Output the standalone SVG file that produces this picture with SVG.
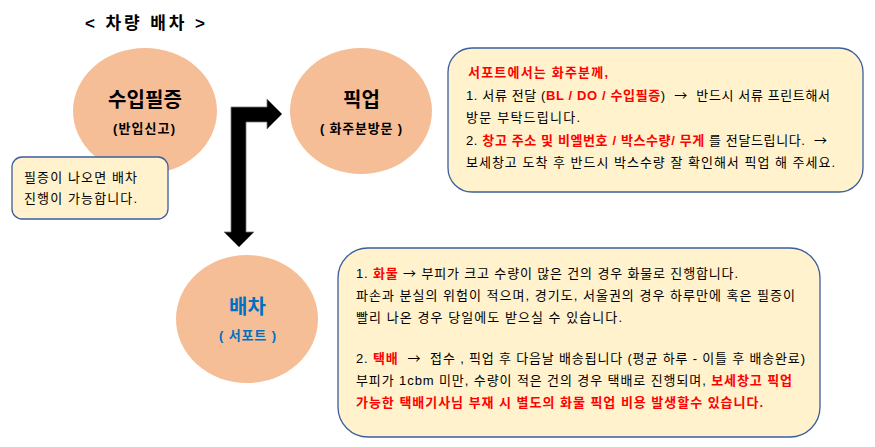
<svg xmlns="http://www.w3.org/2000/svg" width="875" height="447" viewBox="0 0 875 447">
<style>
text{font-family:"Liberation Sans","Noto Sans CJK KR",sans-serif;fill:#000;white-space:pre}
.circ{fill:#F5BE97}
.box{fill:#FFF2CC;stroke:#3A5F9E;stroke-width:1.3}
.t{font-size:13px}
.big{font-size:20px;font-weight:bold}
.sub{font-size:13px;font-weight:bold}
.red{fill:#FF0000;font-weight:bold}
.blue{fill:#0070C0}
.ar{font-family:"Noto Sans CJK KR",sans-serif}
</style>
<rect width="875" height="447" fill="#fff"/>
<text x="85" y="29" textLength="120" lengthAdjust="spacing" style="font-size:17px;font-weight:bold">&lt; 차량 배차 &gt;</text>
<g id="connectors">
<polygon points="231,107 267,107 267,99 282,114 267,129 267,122 246,122 246,232 254,232 239,247 224,232 231,232" fill="#000" stroke="#777" stroke-width="0.8"/>
</g>
<g id="node-import">
<ellipse class="circ" cx="145" cy="111" rx="72" ry="63"/>
<text class="big" x="108" y="107" textLength="74" lengthAdjust="spacing">수입필증</text>
<text class="sub" x="113" y="133" textLength="62" lengthAdjust="spacing">(반입신고)</text>
</g>
<g id="node-pickup">
<ellipse class="circ" cx="361" cy="111" rx="71" ry="63"/>
<text class="big" x="343" y="107" textLength="37" lengthAdjust="spacing">픽업</text>
<text class="sub" x="320" y="133" textLength="82" lengthAdjust="spacing">( 화주분방문 )</text>
</g>
<g id="node-dispatch">
<ellipse class="circ" cx="247" cy="319" rx="71" ry="64"/>
<text class="big blue" x="229" y="314" textLength="37" lengthAdjust="spacing">배차</text>
<text class="sub blue" x="219" y="340" textLength="57" lengthAdjust="spacing">( 서포트 )</text>
</g>
<g id="note-import">
<rect class="box" x="12" y="157" width="156" height="62" rx="10"/>
<text class="t" x="24" y="182" textLength="113" lengthAdjust="spacing">필증이 나오면 배차</text>
<text class="t" x="24" y="203" textLength="113" lengthAdjust="spacing">진행이 가능합니다.</text>
</g>
<g id="note-pickup">
<rect class="box" x="448" y="48" width="415" height="144" rx="24"/>
<text class="t red" x="468" y="77" textLength="140" lengthAdjust="spacing">서포트에서는 화주분께,</text>
<text class="t" x="466" y="100" textLength="364" lengthAdjust="spacing">1. 서류 전달 (<tspan class="red">BL / DO / 수입필증</tspan>)  <tspan class="ar">→</tspan>  반드시 서류 프린트해서</text>
<text class="t" x="466" y="122" textLength="114" lengthAdjust="spacing">방문 부탁드립니다.</text>
<text class="t" x="466" y="145" textLength="361" lengthAdjust="spacing">2. <tspan class="red">창고 주소 및 비엘번호 / 박스수량/ 무게</tspan> 를 전달드립니다.  <tspan class="ar">→</tspan></text>
<text class="t" x="466" y="167" textLength="369" lengthAdjust="spacing">보세창고 도착 후 반드시 박스수량 잘 확인해서 픽업 해 주세요.</text>
</g>
<g id="note-dispatch">
<rect class="box" x="338" y="248" width="482" height="189" rx="30"/>
<text class="t" x="356" y="278" textLength="382" lengthAdjust="spacing">1. <tspan class="red">화물</tspan> <tspan class="ar">→</tspan> 부피가 크고 수량이 많은 건의 경우 화물로 진행합니다.</text>
<text class="t" x="356" y="300" textLength="439" lengthAdjust="spacing">파손과 분실의 위험이 적으며, 경기도, 서울권의 경우 하루만에 혹은 필증이</text>
<text class="t" x="356" y="322" textLength="266" lengthAdjust="spacing">빨리 나온 경우 당일에도 받으실 수 있습니다.</text>
<text class="t" x="356" y="363" textLength="449" lengthAdjust="spacing">2. <tspan class="red">택배</tspan>  <tspan class="ar">→</tspan>  접수 , 픽업 후 다음날 배송됩니다 (평균 하루 - 이틀 후 배송완료)</text>
<text class="t" x="356" y="385" textLength="436" lengthAdjust="spacing">부피가 1cbm 미만, 수량이 적은 건의 경우 택배로 진행되며, <tspan class="red">보세창고 픽업</tspan></text>
<text class="t red" x="356" y="407" textLength="407" lengthAdjust="spacing">가능한 택배기사님 부재 시 별도의 화물 픽업 비용 발생할수 있습니다.</text>
</g>
</svg>
